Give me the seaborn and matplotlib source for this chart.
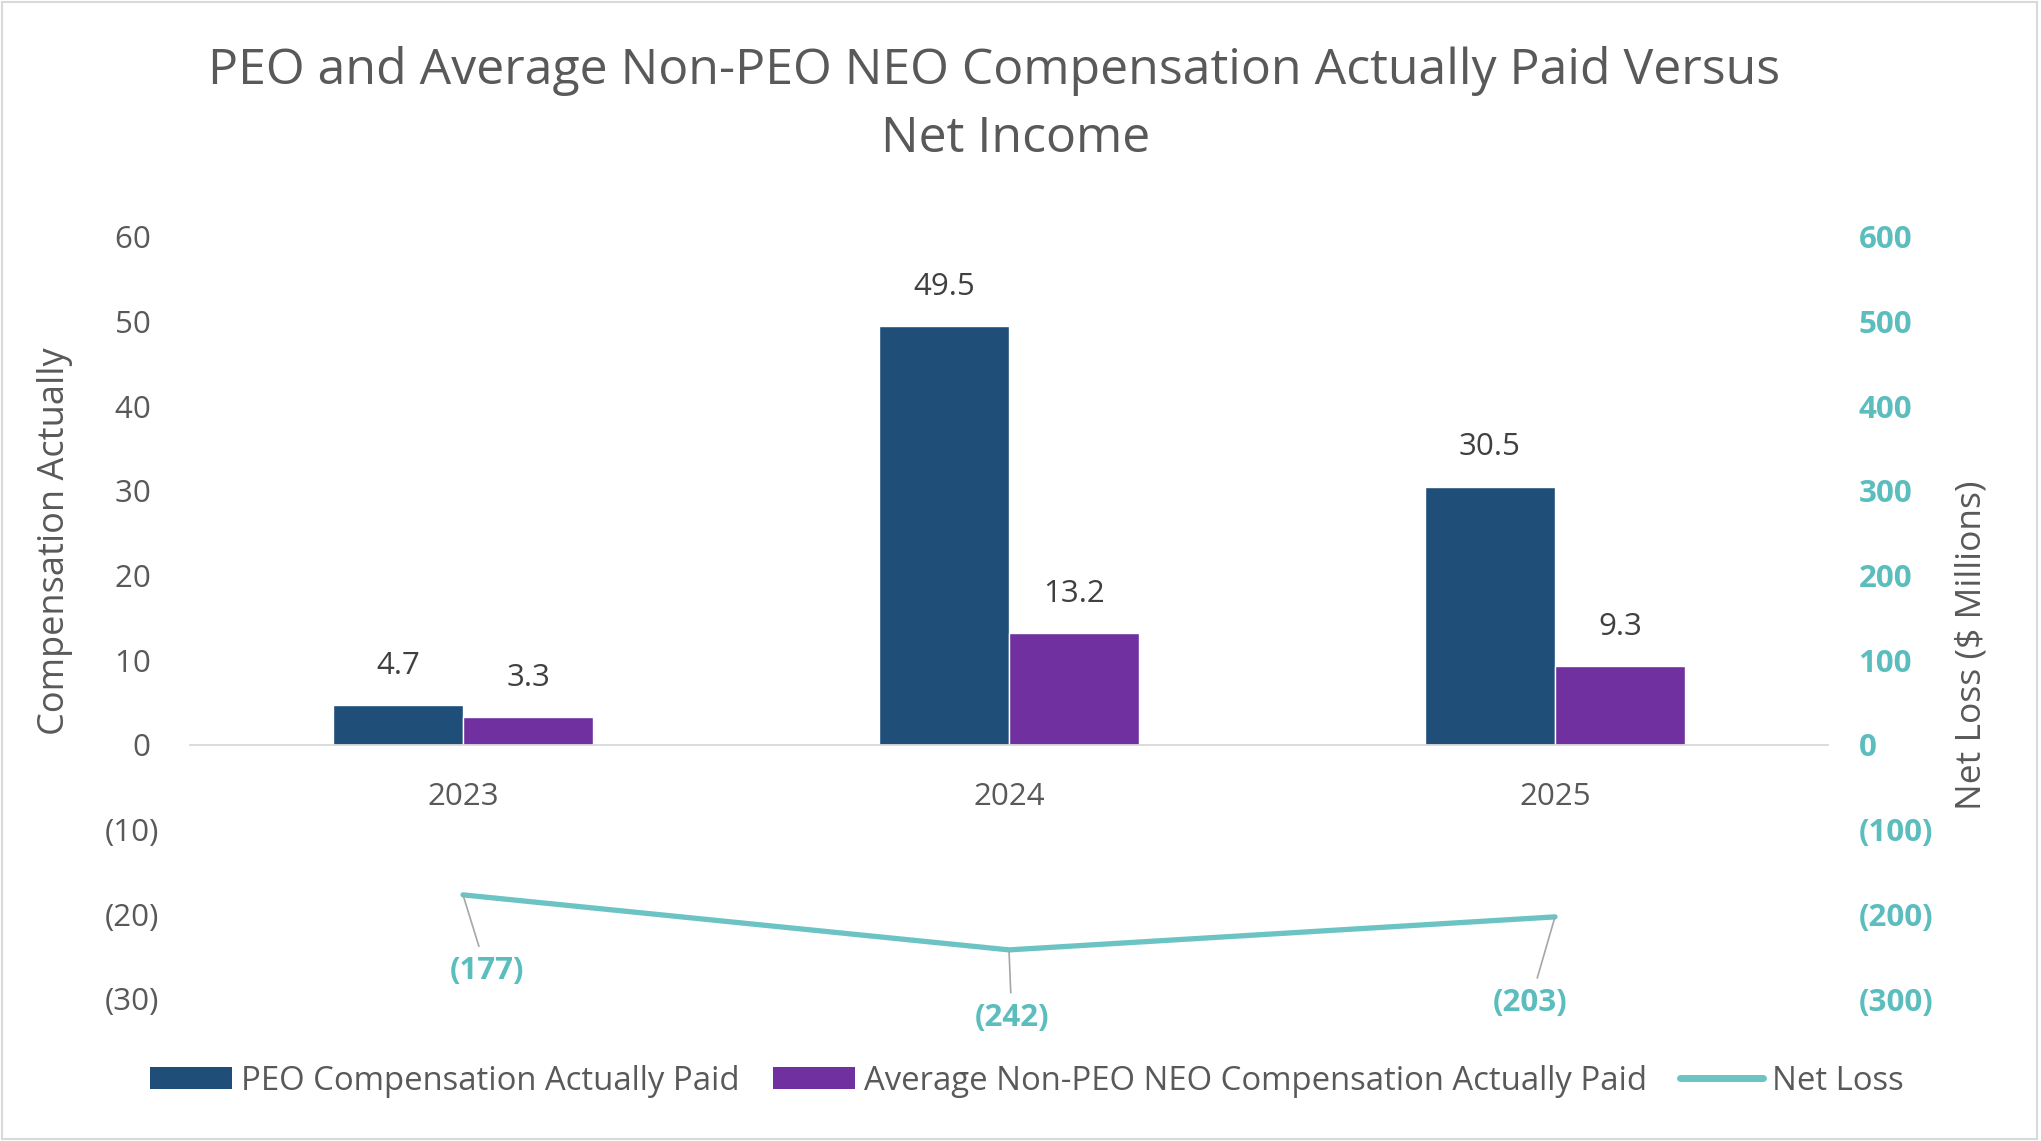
import numpy as np
import pandas as pd
import matplotlib
matplotlib.use("Agg")
import matplotlib.pyplot as plt
from matplotlib.patches import Rectangle
from matplotlib.lines import Line2D
from matplotlib.patches import Patch
import seaborn as sns

# ---------------- data ----------------
years = ["2023", "2024", "2025"]
peo_cap = [4.7, 49.5, 30.5]
neo_cap = [3.3, 13.2, 9.3]
net_loss = [-177, -242, -203]
series_names = ["PEO Compensation Actually Paid",
                "Average Non-PEO NEO Compensation Actually Paid"]
line_name = "Net Loss"
left_ticks = [-30, -20, -10, 0, 10, 20, 30, 40, 50, 60]
right_ticks = [-300, -200, -100, 0, 100, 200, 300, 400, 500, 600]

# ---------------- style ----------------
sns.set_theme(style="white")
plt.rcParams["font.family"] = ["Open Sans", "DejaVu Sans"]

BLUE = "#1F4E79"
PURPLE = "#7030A0"
TEAL = "#6CC3C3"
TEAL_TXT = "#5BBDBD"
GRAY = "#595959"
DARK = "#404040"
FS = 22.5

df = pd.DataFrame({
    "Year": years * 2,
    "Series": [series_names[0]] * len(years) + [series_names[1]] * len(years),
    "Value": peo_cap + neo_cap,
})

fig = plt.figure(figsize=(20.41, 11.41), dpi=100)
ax = fig.add_axes([190 / 2041, 1 - 999 / 1141, (1828 - 190) / 2041, (999 - 237) / 1141])

sns.barplot(data=df, x="Year", y="Value", hue="Series",
            palette=[BLUE, PURPLE], saturation=1, width=0.477, gap=0,
            ax=ax, legend=False)

for cont in ax.containers:
    ax.bar_label(cont, fmt="%.1f", padding=17.5, fontsize=FS, color=DARK)

ax.set_xlim(-0.5, len(years) - 0.5)
ax.set_ylim(left_ticks[0], left_ticks[-1])
ax.set_yticks(left_ticks)
ax.set_yticklabels([f"({abs(v)})" if v < 0 else f"{v} " for v in left_ticks])
ax.tick_params(axis="y", length=0, pad=22, labelsize=FS, labelcolor=GRAY)
ax.tick_params(axis="x", length=0, pad=27, labelsize=FS, labelcolor=GRAY)
ax.set_xlabel("")
ax.set_ylabel("Compensation Actually", fontsize=26, color=GRAY)
ax.yaxis.set_label_coords(-0.0715, 0.601)

for s in ["top", "right", "left"]:
    ax.spines[s].set_visible(False)
ax.spines["bottom"].set_position(("data", 0))
ax.spines["bottom"].set_color("#D9D9D9")
ax.spines["bottom"].set_linewidth(1.3)

# ---------------- secondary axis ----------------
ax2 = ax.twinx()
x_pos = np.arange(len(years))
sns.lineplot(x=x_pos, y=net_loss, ax=ax2, color=TEAL, linewidth=3.8, legend=False)
ax2.set_ylim(right_ticks[0], right_ticks[-1])
ax2.set_yticks(right_ticks)
ax2.set_yticklabels([f"({abs(v)})" if v < 0 else f"{v}" for v in right_ticks],
                    fontweight="bold")
ax2.tick_params(axis="y", length=0, pad=22, labelsize=FS, labelcolor=TEAL_TXT)
ax2.set_ylabel("Net Loss ($ Millions)", fontsize=25.5, color=GRAY, rotation=90)
ax2.yaxis.set_label_coords(1.077, 0.4646)
for s in ["top", "right", "left", "bottom"]:
    ax2.spines[s].set_visible(False)
ax.set_xlim(-0.5, len(years) - 0.5)

label_offsets = [(17, -55), (2, -49), (-18, -62)]
for xi, v, off in zip(x_pos, net_loss, label_offsets):
    ax2.annotate(f"({abs(v)})", xy=(xi, v), xytext=off, textcoords="offset points",
                 ha="center", va="center", fontsize=FS, fontweight="bold",
                 color=TEAL_TXT,
                 arrowprops=dict(arrowstyle="-", color="#A6A6A6", lw=1.2,
                                 shrinkA=5, shrinkB=1))

# ---------------- title ----------------
fig.text(994 / 2041, 1 - 71 / 1141,
         "PEO and Average Non-PEO NEO Compensation Actually Paid Versus",
         ha="center", va="center", fontsize=36, color=GRAY)
fig.text(1016 / 2041, 1 - 139 / 1141, "Net Income",
         ha="center", va="center", fontsize=36, color=GRAY)

# ---------------- legend ----------------
handles = [Patch(facecolor=BLUE, edgecolor="none"),
           Patch(facecolor=PURPLE, edgecolor="none"),
           Line2D([0], [0], color=TEAL, lw=5)]
fig.legend(handles, series_names + [line_name], loc="center",
           bbox_to_anchor=(0.503, 1 - 1081 / 1141), ncol=3, frameon=False,
           fontsize=23.7, labelcolor=GRAY, handlelength=2.5, handleheight=0.66,
           columnspacing=1.0, handletextpad=0.28)

# border
fig.patches.append(Rectangle((0.001, 0.002), 0.997, 0.996, transform=fig.transFigure,
                             fill=False, edgecolor="#D9D9D9", lw=1.5))

fig.savefig("out.png", dpi=100)
